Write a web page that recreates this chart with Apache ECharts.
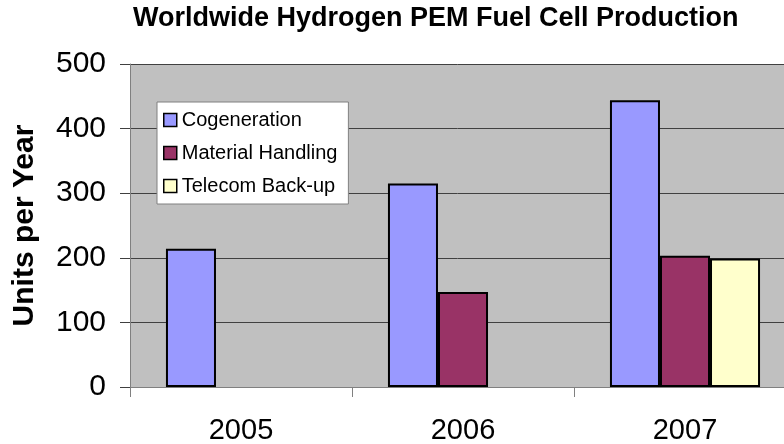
<!DOCTYPE html>
<html>
<head>
<meta charset="utf-8">
<script src="https://cdn.jsdelivr.net/npm/echarts@6/dist/echarts.min.js"></script>
<style>
  html, body { margin: 0; padding: 0; background: #fff; }
  #main { width: 784px; height: 444px; }
</style>
</head>
<body>
<div id="main"></div>
<script>
// data
var years = ['2005', '2006', '2007'];
var cogeneration = [214, 315, 444];
var materialHandling = [null, 147, 203];
var telecomBackup = [null, null, 199];

var font = 'Arial, "Liberation Sans", sans-serif';

var chart = echarts.init(document.getElementById('main'), null, { renderer: 'canvas' });

function barSeries(name, data, color) {
  return {
    name: name,
    type: 'bar',
    data: data,
    barGap: 0,
    barCategoryGap: '32.4%',
    itemStyle: { color: color, borderColor: '#000', borderWidth: 2 },
    emphasis: { disabled: true },
    animation: false
  };
}

chart.setOption({
  animation: false,
  title: {
    text: 'Worldwide Hydrogen PEM Fuel Cell Production',
    left: 133,
    top: 5,
    padding: 0,
    textStyle: { fontFamily: font, fontSize: 27, fontWeight: 'bold', color: '#000' }
  },
  legend: {
    orient: 'vertical',
    left: 157,
    top: 102,
    backgroundColor: '#fff',
    borderColor: '#808080',
    borderWidth: 1,
    padding: [8, 11, 8, 6],
    itemWidth: 13,
    itemHeight: 13,
    itemGap: 13,
    icon: 'rect',
    itemStyle: { borderColor: '#000', borderWidth: 1.5 },
    textStyle: { fontFamily: font, fontSize: 20, color: '#000' },
    data: ['Cogeneration', 'Material Handling', 'Telecom Back-up']
  },
  grid: {
    left: 130,
    top: 64,
    width: 666,
    height: 323,
    outerBoundsMode: 'none',
    show: true,
    backgroundColor: '#C0C0C0',
    borderWidth: 0
  },
  xAxis: {
    type: 'category',
    data: years,
    axisLine: { lineStyle: { color: '#808080', width: 1 } },
    axisTick: { show: true, length: 10, lineStyle: { color: '#808080' } },
    axisLabel: { fontFamily: font, fontSize: 29, color: '#000', margin: 29 },
    splitLine: { show: false }
  },
  yAxis: {
    type: 'value',
    min: 0,
    max: 500,
    interval: 100,
    name: 'Units per Year',
    nameLocation: 'middle',
    nameGap: 90,
    nameTextStyle: { fontFamily: font, fontSize: 30, fontWeight: 'bold', color: '#000' },
    axisLine: { show: true, lineStyle: { color: '#808080', width: 1 } },
    axisTick: { show: true, length: 10, lineStyle: { color: '#404040' } },
    axisLabel: { fontFamily: font, fontSize: 30, color: '#000', margin: 24 },
    splitLine: { show: true, lineStyle: { color: '#404040', width: 1 } }
  },
  series: [
    barSeries('Cogeneration', cogeneration, '#9999FF'),
    barSeries('Material Handling', materialHandling, '#993366'),
    barSeries('Telecom Back-up', telecomBackup, '#FFFFCC')
  ]
});
</script>
</body>
</html>
